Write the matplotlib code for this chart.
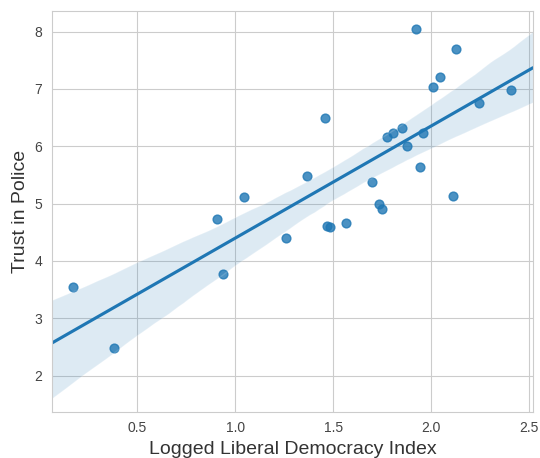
import numpy as np
import pandas as pd
import matplotlib
matplotlib.use("Agg")
import matplotlib.pyplot as plt
import seaborn as sns

# Values
democracy = [0.175, 0.381, 0.909, 0.937, 1.046, 1.258, 1.367, 1.458, 1.471, 1.486,
             1.566, 1.697, 1.735, 1.748, 1.777, 1.808, 1.852, 1.878, 1.923, 1.946,
             1.961, 2.010, 2.048, 2.110, 2.129, 2.245, 2.408]
trust = [3.55, 2.49, 4.73, 3.78, 5.11, 4.40, 5.49, 6.49, 4.61, 4.59,
         4.66, 5.38, 5.00, 4.90, 6.17, 6.24, 6.32, 6.00, 8.04, 5.64,
         6.24, 7.04, 7.21, 5.14, 7.69, 6.76, 6.99]

df = pd.DataFrame({"Logged Liberal Democracy Index": democracy,
                   "Trust in Police": trust})

sns.set_style("whitegrid")
plt.rcParams['font.family'] = ['Liberation Sans', 'DejaVu Sans']

fig = plt.figure(figsize=(5.4, 4.58), dpi=100)
ax = fig.add_axes([0.096, 0.101, 0.891, 0.875])
ax.set_xlim(0.065, 2.52)
ax.set_ylim(1.37, 8.36)

sns.regplot(data=df, x="Logged Liberal Democracy Index", y="Trust in Police",
            ax=ax, truncate=False, seed=3, scatter_kws={"s": 40})

ax.set_xlim(0.065, 2.52)
ax.set_ylim(1.37, 8.36)
ax.set_xticks([0.5, 1.0, 1.5, 2.0, 2.5])
ax.set_yticks([2, 3, 4, 5, 6, 7, 8])
ax.tick_params(labelsize=10, colors="#444444")
ax.set_xlabel("Logged Liberal Democracy Index", fontsize=14, color="#333333")
ax.set_ylabel("Trust in Police", fontsize=14, color="#333333")

fig.savefig("out.png", dpi=100)
